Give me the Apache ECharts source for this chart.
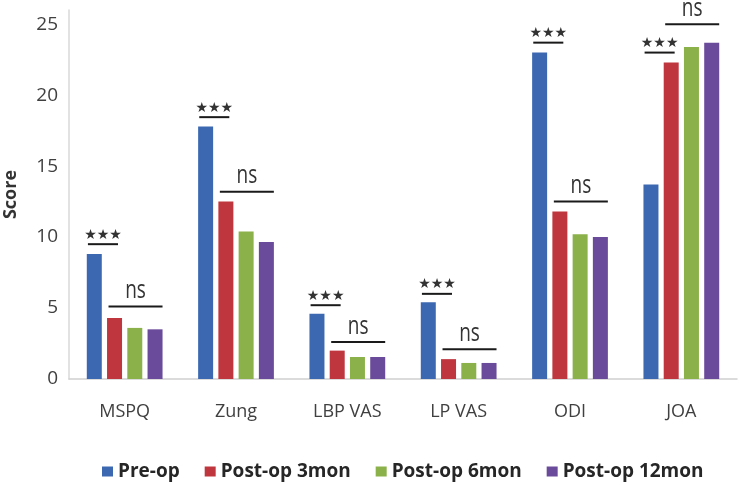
<!DOCTYPE html>
<html lang="en">
<head>
    <meta charset="UTF-8">
    <title>Scores before and after surgery</title>
    <script src="https://cdn.jsdelivr.net/npm/echarts@6/dist/echarts.min.js"></script>
    <style>
        html, body { margin: 0; padding: 0; background: #fff; }
        #chart { width: 744px; height: 497px; }
    </style>
</head>
<body>
    <div id="chart"></div>

    <script>
        // Outcome measures and the four time points
        var categories = ['MSPQ', 'Zung', 'LBP VAS', 'LP VAS', 'ODI', 'JOA'];
        var preOp = [8.8, 17.8, 4.6, 5.4, 23.0, 13.7];
        var post3mon = [4.3, 12.5, 2.0, 1.4, 11.8, 22.3];
        var post6mon = [3.6, 10.4, 1.55, 1.13, 10.2, 23.4];
        var post12mon = [3.5, 9.65, 1.55, 1.13, 10.0, 23.7];

        // Heights (score units) of the significance brackets
        var starLevels = [9.5, 18.45, 5.2, 6.0, 23.7, 23.0];
        var nsLevels = [5.1, 13.2, 2.6, 2.1, 12.5, 25.0];

        var seriesNames = ['Pre-op', 'Post-op 3mon', 'Post-op 6mon', 'Post-op 12mon'];
        var colors = ['#3c68b1', '#c0363f', '#8bb24a', '#6a4a9a'];

        var chart = echarts.init(document.getElementById('chart'));

        function bracket(levels, text, from, to, isStars) {
            return {
                type: 'custom',
                silent: true,
                z: 5,
                data: levels.map(function (v, i) { return [i, v]; }),
                renderItem: function (params, api) {
                    var pt = api.coord([api.value(0), api.value(1)]);
                    var bw = api.size([1, 0])[0];
                    var x1 = pt[0] + from * bw;
                    var x2 = pt[0] + to * bw;
                    var mid = (x1 + x2) / 2;
                    return {
                        type: 'group',
                        children: [
                            {
                                type: 'line',
                                shape: { x1: x1, y1: pt[1], x2: x2, y2: pt[1] },
                                style: { stroke: '#1a1a1a', lineWidth: 2 }
                            },
                            {
                                type: 'text',
                                x: mid,
                                y: pt[1] - (isStars ? 2 : 3),
                                scaleY: isStars ? 1 : 1.35,
                                style: {
                                    text: text,
                                    fill: '#333',
                                    font: isStars ? '14px "DejaVu Sans"' : '19px "Open Sans"',
                                    align: 'center',
                                    verticalAlign: 'bottom'
                                }
                            }
                        ]
                    };
                }
            };
        }

        var barSeries = [preOp, post3mon, post6mon, post12mon].map(function (vals, i) {
            return {
                name: seriesNames[i],
                type: 'bar',
                barWidth: 15,
                barGap: '35%',
                itemStyle: { color: colors[i] },
                data: vals
            };
        });

        var option = {
            animation: false,
            grid: { left: 69, right: 7, top: 10, bottom: 118, containLabel: false, outerBoundsMode: 'none' },
            legend: {
                data: seriesNames,
                left: 102,
                top: 462,
                padding: 0,
                icon: 'rect',
                itemWidth: 11,
                itemHeight: 10,
                itemGap: 25,
                textStyle: { fontFamily: 'Open Sans', fontSize: 19, fontWeight: 'bold', color: '#262626' }
            },
            xAxis: {
                type: 'category',
                data: categories,
                axisLine: { lineStyle: { color: '#d0d0d0', width: 1.5 } },
                axisTick: { show: false },
                axisLabel: { fontFamily: 'Open Sans', fontSize: 18, color: '#404040', margin: 24 }
            },
            yAxis: {
                type: 'value',
                min: 0,
                max: 26,
                interval: 5,
                name: 'Score',
                nameLocation: 'middle',
                nameGap: 49,
                nameMoveOverlap: false,
                nameTextStyle: { fontFamily: 'Open Sans', fontSize: 18, fontWeight: 'bold', color: '#333' },
                axisLine: { show: true, lineStyle: { color: '#d8d8d8', width: 1.5 } },
                axisTick: { show: false },
                splitLine: { show: false },
                axisLabel: { fontFamily: 'Open Sans', fontSize: 19, color: '#404040', margin: 11, showMaxLabel: false }
            },
            series: barSeries.concat([
                bracket(starLevels, '★★★', -0.33, -0.06, true),
                bracket(nsLevels, 'ns', -0.145, 0.34, false)
            ])
        };

        chart.setOption(option);
    </script>
</body>
</html>
